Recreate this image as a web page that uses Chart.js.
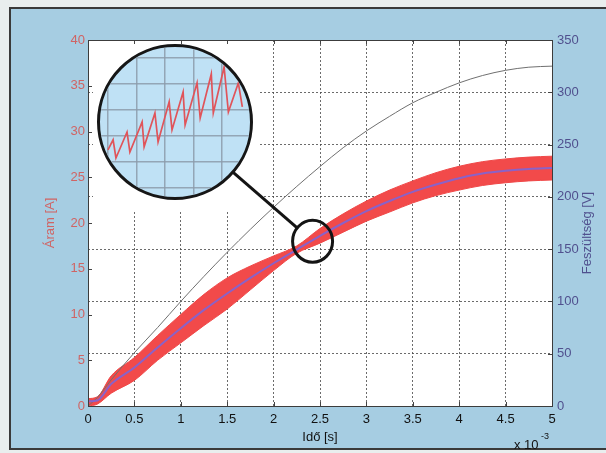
<!DOCTYPE html>
<html>
<head>
<meta charset="utf-8">
<script src="https://cdn.jsdelivr.net/npm/chart.js@4.4.1/dist/chart.umd.min.js"></script>
<style>
  html, body { margin:0; padding:0; }
  body { width:606px; height:453px; background:#e9eeee; position:relative; overflow:hidden; }
  #frame { position:absolute; left:9px; top:7px; width:610px; height:443px; box-sizing:border-box; background:#a6cde2; border:2px solid #3a3a3a; }
  #main { position:absolute; left:0; top:0; }
  #lens { position:absolute; left:97px; top:44px; width:156px; height:156px; box-sizing:border-box; border:3px solid #161616; border-radius:50%; overflow:hidden; background:#bfe1f5; }
  #lens canvas { display:block; }
</style>
</head>
<body>
<div id="frame"></div>
<canvas id="main" width="606" height="453"></canvas>
<div id="lens"><canvas id="zoom" width="150" height="150"></canvas></div>
<script>
// ido [ms], aram [A], feszultseg [V]
var ido        = [0, 0.1, 0.25, 0.5, 0.75, 1, 1.25, 1.5, 1.75, 2, 2.25, 2.5, 2.75, 3, 3.25, 3.5, 3.75, 4, 4.25, 4.5, 4.75, 5];
var aramAtlag  = [0.5, 0.6, 2.4, 4.2, 6.4, 8.5, 10.5, 12.3, 14.0, 15.6, 17.1, 18.6, 20.0, 21.3, 22.4, 23.4, 24.2, 24.9, 25.4, 25.7, 25.9, 26.0];
var aramFelso  = [0.8, 1.0, 3.3, 5.3, 7.7, 10.0, 12.2, 14.0, 15.3, 16.4, 17.5, 19.4, 21.0, 22.4, 23.6, 24.6, 25.5, 26.2, 26.7, 27.0, 27.2, 27.3];
var aramAlso   = [0, 0.2, 1.4, 2.8, 5.0, 6.9, 8.8, 10.6, 12.7, 14.8, 16.7, 17.8, 19.0, 20.2, 21.2, 22.2, 23.0, 23.6, 24.1, 24.4, 24.6, 24.7];
var feszultseg = [0, 8, 25, 51, 75, 100, 124, 147, 169, 190, 210, 229, 247, 263, 277, 290, 300, 309, 316, 321, 324, 325];

// nagyito (lupe) kivagas
var lupeX = [0.0, 0.18, 0.28, 0.67, 0.77, 1.20, 1.27, 1.65, 1.76, 2.15, 2.25, 2.64, 2.71, 3.13, 3.24, 3.63, 3.70, 4.08, 4.23, 4.58, 4.72];
var lupeY = [1.46, 1.85, 1.15, 2.15, 1.38, 2.54, 1.58, 2.88, 1.77, 3.31, 2.23, 3.69, 2.42, 4.04, 2.69, 4.38, 2.88, 4.65, 2.92, 4.04, 3.12];
var lupeRacs = [0, 1, 2, 3, 4, 5];

// a kinagyitott hely
var lupeHelyT = 2.42, lupeHelyA = 18.0;

var xTicks = { min: 0, max: 5, step: 0.5 };
var aTicks = { min: 0, max: 40, step: 5 };
var vTicks = { min: 0, max: 350, step: 50 };

function pts(xs, ys) {
  var out = [];
  for (var i = 0; i < xs.length; i++) out.push({ x: xs[i], y: ys[i] });
  return out;
}

Chart.defaults.font.family = '"Liberation Sans", Arial, sans-serif';
Chart.defaults.font.size = 13;

var FONT = '"Liberation Sans", Arial, sans-serif';
var piros = '#d06464';
var lila = '#50508e';

var keret = {
  id: 'keret',
  beforeDraw: function(chart) {
    var a = chart.chartArea, ctx = chart.ctx;
    ctx.save();
    ctx.fillStyle = '#ffffff';
    ctx.fillRect(a.left, a.top, a.right - a.left, a.bottom - a.top);
    ctx.restore();
  },
  beforeDatasetsDraw: function(chart) {
    // the pasted lens picture covers the grid in the upper left corner
    var a = chart.chartArea, ctx = chart.ctx;
    ctx.save();
    ctx.fillStyle = '#ffffff';
    ctx.fillRect(a.left + 5, a.top + 1, 259 - (a.left + 5), 210 - (a.top + 1));
    ctx.restore();
  },
  afterDraw: function(chart) {
    var a = chart.chartArea, ctx = chart.ctx;
    var sx = chart.scales.x, sa = chart.scales.yA, sv = chart.scales.yV;
    ctx.save();
    // small inner ticks
    ctx.strokeStyle = '#444';
    ctx.lineWidth = 1;
    ctx.beginPath();
    sx.ticks.forEach(function(t) {
      var px = Math.round(sx.getPixelForValue(t.value)) + 0.5;
      ctx.moveTo(px, a.bottom); ctx.lineTo(px, a.bottom - 4);
      ctx.moveTo(px, a.top); ctx.lineTo(px, a.top + 4);
    });
    sa.ticks.forEach(function(t) {
      var py = Math.round(sa.getPixelForValue(t.value)) + 0.5;
      ctx.moveTo(a.left, py); ctx.lineTo(a.left + 4, py);
    });
    sv.ticks.forEach(function(t) {
      var py = Math.round(sv.getPixelForValue(t.value)) + 0.5;
      ctx.moveTo(a.right, py); ctx.lineTo(a.right - 4, py);
    });
    ctx.stroke();
    // frame
    ctx.strokeStyle = '#3c3c3c';
    ctx.strokeRect(Math.round(a.left) + 0.5, Math.round(a.top) + 0.5, Math.round(a.right - a.left), Math.round(a.bottom - a.top));

    // x 10^-3
    ctx.fillStyle = '#111';
    ctx.font = '13px ' + FONT;
    ctx.textAlign = 'left';
    ctx.textBaseline = 'middle';
    ctx.fillText('x 10', 514, 445);
    ctx.font = '9px ' + FONT;
    ctx.fillText('-3', 541, 437);

    // right axis title, reads bottom to top
    ctx.save();
    ctx.translate(587, (a.top + a.bottom) / 2 + 10);
    ctx.rotate(-Math.PI / 2);
    ctx.font = '13px ' + FONT;
    ctx.fillStyle = lila;
    ctx.textAlign = 'center';
    ctx.fillText('Feszültség [V]', 0, 0);
    ctx.restore();

    // small circle + connector to the lens
    var cx = sx.getPixelForValue(lupeHelyT), cy = sa.getPixelForValue(lupeHelyA);
    var bx = 175, by = 122, bR = 77, r = 20;
    var dx = cx - bx, dy = cy - by, d = Math.sqrt(dx * dx + dy * dy);
    ctx.strokeStyle = '#141414';
    ctx.lineWidth = 3;
    ctx.beginPath();
    ctx.ellipse(cx, cy, r, r + 1, 0, 0, Math.PI * 2);
    ctx.stroke();
    ctx.beginPath();
    ctx.moveTo(bx + dx / d * bR, by + dy / d * bR);
    ctx.lineTo(cx - dx / d * r, cy - dy / d * r);
    ctx.stroke();
    ctx.restore();
  }
};

new Chart(document.getElementById('main'), {
  type: 'line',
  data: {
    datasets: [
      { label: 'Áram min', data: pts(ido, aramAlso), yAxisID: 'yA', borderColor: '#f04848', borderWidth: 1,
        pointRadius: 0, fill: false, order: 3, cubicInterpolationMode: 'monotone' },
      { label: 'Áram', data: pts(ido, aramFelso), yAxisID: 'yA', borderColor: '#f04848', borderWidth: 1,
        backgroundColor: '#f24a4a', pointRadius: 0, fill: '-1', order: 3, cubicInterpolationMode: 'monotone' },
      { label: 'Áram átlag', data: pts(ido, aramAtlag), yAxisID: 'yA', borderColor: '#8a62c8', borderWidth: 2,
        pointRadius: 0, fill: false, order: 1, cubicInterpolationMode: 'monotone' },
      { label: 'Feszültség', data: pts(ido, feszultseg), yAxisID: 'yV', borderColor: '#707070', borderWidth: 1,
        pointRadius: 0, fill: false, order: 2, cubicInterpolationMode: 'monotone' }
    ]
  },
  options: {
    responsive: false,
    animation: false,
    layout: { padding: { left: 0, right: 0, top: 40, bottom: 0 } },
    plugins: { legend: { display: false }, tooltip: { enabled: false } },
    scales: {
      x: {
        type: 'linear', position: 'bottom', min: xTicks.min, max: xTicks.max,
        afterFit: function(s) { s.height = 47; },
        ticks: { stepSize: xTicks.step, color: '#111', padding: 6, maxRotation: 0,
          callback: function(v) { return String(Math.round(v * 10) / 10); } },
        grid: { color: 'rgba(70,70,70,0.8)', lineWidth: 1, drawTicks: false },
        border: { display: false, dash: [2, 2] },
        title: { display: true, text: 'Idő [s]', color: '#111', font: { size: 13 }, padding: { top: 0, bottom: 8 } }
      },
      yA: {
        type: 'linear', position: 'left', min: aTicks.min, max: aTicks.max,
        afterFit: function(s) { s.width = 88; },
        ticks: { stepSize: aTicks.step, color: piros, padding: 3 },
        grid: { display: false, drawTicks: false },
        border: { display: false },
        title: { display: true, text: 'Áram [A]', color: piros, font: { size: 13 }, padding: { top: 43, bottom: 0 } }
      },
      yV: {
        type: 'linear', position: 'right', min: vTicks.min, max: vTicks.max,
        afterFit: function(s) { s.width = 54; },
        ticks: { stepSize: vTicks.step, color: lila, padding: 5 },
        grid: { color: 'rgba(70,70,70,0.8)', lineWidth: 1, drawTicks: false },
        border: { display: false, dash: [2, 2] }
      }
    }
  },
  plugins: [keret]
});

// lens chart
new Chart(document.getElementById('zoom'), {
  type: 'line',
  data: {
    datasets: [
      { label: 'Áram (nagyítva)', data: pts(lupeX, lupeY), borderColor: '#e0545a', borderWidth: 1.7,
        pointRadius: 0, fill: false, tension: 0 }
    ]
  },
  options: {
    responsive: false,
    animation: false,
    layout: { padding: 0 },
    plugins: { legend: { display: false }, tooltip: { enabled: false } },
    scales: {
      x: {
        type: 'linear', min: -0.28, max: 4.99,
        afterFit: function(s) { s.height = 0; },
        afterBuildTicks: function(s) { s.ticks = lupeRacs.map(function(v) { return { value: v }; }); },
        ticks: { display: false },
        grid: { color: 'rgba(140,155,170,0.85)', lineWidth: 1.5, drawTicks: false },
        border: { display: false }
      },
      y: {
        type: 'linear', min: -0.35, max: 5.42,
        afterFit: function(s) { s.width = 0; },
        afterBuildTicks: function(s) { s.ticks = lupeRacs.map(function(v) { return { value: v }; }); },
        ticks: { display: false },
        grid: { color: 'rgba(140,155,170,0.85)', lineWidth: 1.5, drawTicks: false },
        border: { display: false }
      }
    }
  }
});
</script>
</body>
</html>
